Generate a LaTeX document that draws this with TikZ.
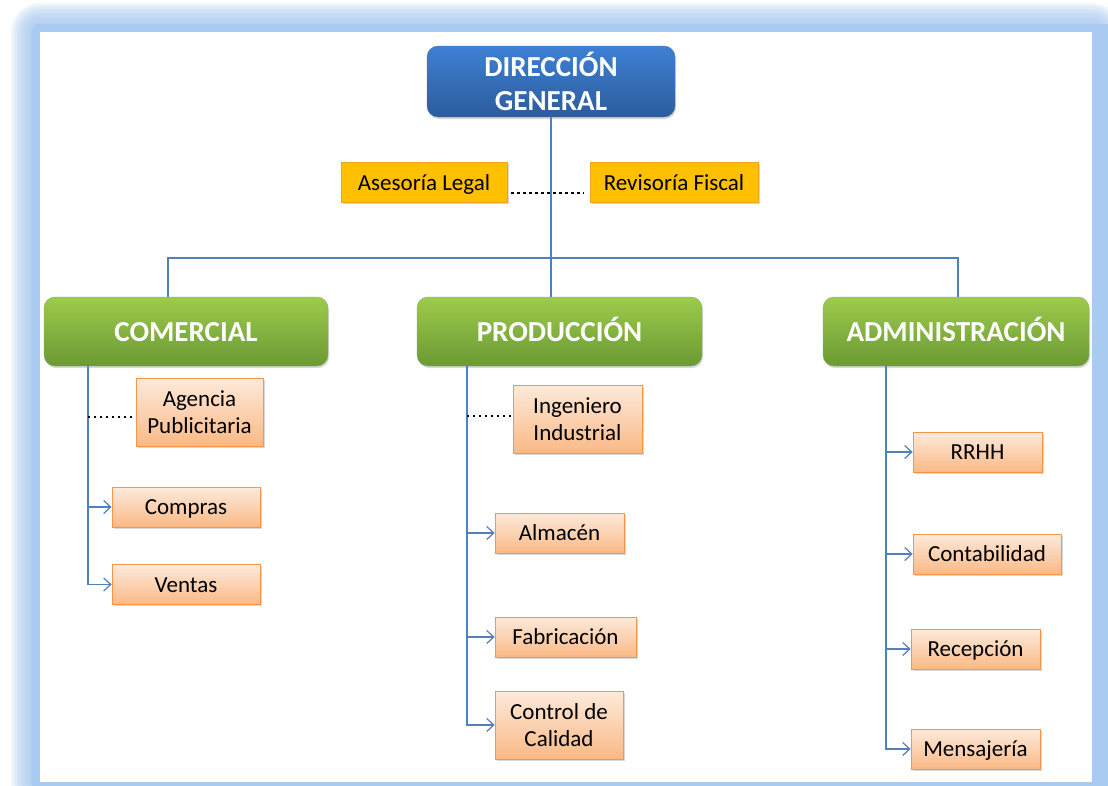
\documentclass[tikz,border=0pt]{standalone}
\usepackage{fontspec}
\setmainfont{Carlito}
\usetikzlibrary{arrows.meta,shadows}

\definecolor{framecol}{HTML}{A9CBF1}
\definecolor{linecol}{HTML}{4F81BD}
\definecolor{dirtop}{HTML}{3E80D4}
\definecolor{dirbot}{HTML}{2C5C9C}
\definecolor{areatop}{HTML}{9DCB4C}
\definecolor{areabot}{HTML}{6B9934}
\definecolor{advfill}{HTML}{FFC000}
\definecolor{advline}{HTML}{EDA31C}
\definecolor{unittop}{HTML}{FDEADB}
\definecolor{unitbot}{HTML}{FAB986}
\definecolor{unitline}{HTML}{F79646}

\tikzset{
  conn/.style={draw=linecol, line width=1.4pt},
  arr/.style={conn, -{Straight Barb[length=7pt,width=13pt,line width=1.2pt]}},
  dotline/.style={line width=2.6pt, dash pattern=on 2.6pt off 3.4pt},
  dirbox/.style={rounded corners=11pt, top color=dirtop, bottom color=dirbot,
    draw=dirbot!80, text=white, align=center, inner sep=2pt,
    font=\fontsize{29}{34}\selectfont\bfseries,
    minimum width=248pt, minimum height=71pt,
    drop shadow={shadow xshift=1pt, shadow yshift=-2pt, opacity=0.3}},
  areabox/.style={dirbox, top color=areatop, bottom color=areabot, draw=areabot!80,
    minimum height=69pt, text height=19pt, text depth=0pt},
  oneline/.style={text height=17.5pt, text depth=2.5pt},
  advbox/.style={fill=advfill, draw=advline, line width=0.8pt, inner sep=2pt,
    font=\fontsize{23}{26.5}\selectfont, minimum height=40pt,
    drop shadow={shadow xshift=1.5pt, shadow yshift=-1.5pt, opacity=0.3}},
  unitbox/.style={advbox, top color=unittop, bottom color=unitbot, draw=unitline,
    align=center}
}

\begin{document}
\begin{tikzpicture}[x=1pt,y=-1pt]
\useasboundingbox (0,0) rectangle (1108,785);
\clip (0,0) rectangle (1108,785);

% frame with soft glow
\fill[white] (0,0) rectangle (1108,785);
\fill[framecol, rounded corners=8pt] (32,24) rectangle (1116,800);
\foreach \d in {9,11,...,29}
  \fill[framecol, opacity=0.15, rounded corners=\d pt] (40-\d,32-\d) rectangle (1092+\d,782+\d);
\fill[white] (40,32) rectangle (1092,782);

% top level
\node[dirbox] (dir) at (551,81.5) {DIRECCIÓN\\GENERAL};
\node[advbox, oneline, minimum width=166pt] (legal) at (424,182.5) {Asesoría Legal};
\node[advbox, oneline, minimum width=168pt] (fiscal) at (674,182.5) {Revisoría Fiscal};

% areas
\node[areabox, minimum width=284pt] (comercial) at (186,331.5) {COMERCIAL};
\node[areabox, minimum width=285pt] (produccion) at (559.5,331.5) {PRODUCCIÓN};
\node[areabox, minimum width=266pt] (admin) at (956,331.5) {ADMINISTRACIÓN};

% units
\node[unitbox, minimum width=127pt, minimum height=68pt] (agencia) at (199.5,412) {Agencia\\Publicitaria};
\node[unitbox, oneline, minimum width=148pt] (compras) at (186,507) {Compras};
\node[unitbox, oneline, minimum width=148pt] (ventas) at (186,584.5) {Ventas};

\node[unitbox, minimum width=129pt, minimum height=68pt] (ingeniero) at (577.5,419) {Ingeniero\\Industrial};
\node[unitbox, oneline, minimum width=129pt] (almacen) at (559.5,533) {Almacén};
\node[unitbox, oneline, minimum width=141pt] (fabricacion) at (565.5,637) {Fabricación};
\node[unitbox, minimum width=128pt, minimum height=68pt] (control) at (559,725) {Control de\\Calidad};

\node[unitbox, oneline, minimum width=129pt] (rrhh) at (977.5,452) {RRHH};
\node[unitbox, oneline, minimum width=148pt] (contab) at (987,554) {Contabilidad};
\node[unitbox, oneline, minimum width=129pt] (recepcion) at (975.5,649) {Recepción};
\node[unitbox, oneline, minimum width=129pt] (mensajeria) at (975.5,749) {Mensajería};

% bus
\coordinate (busL) at (168,258);
\coordinate (busR) at (958,258);
\draw[conn] (dir.south) -- (dir.south |- produccion.north);
\draw[conn] (busL |- comercial.north) -- (busL) -- (busR) -- (busR |- admin.north);
\draw[dotline] ([shift={(4,10.5)}]legal.east) -- ([shift={(-6,10.5)}]fiscal.west);

% trunks
\coordinate (tc) at (88,0);
\coordinate (tp) at (467,0);
\coordinate (ta) at (886,0);

\draw[arr] (tc |- comercial.south) |- (ventas.west);
\draw[arr] (tc |- compras.west) -- (compras.west);
\draw[dotline, line width=2pt, dash pattern=on 2pt off 4pt] ([yshift=-5pt]tc |- agencia.west) -- ([yshift=-5pt]agencia.west);

\draw[arr] (tp |- produccion.south) |- (control.west);
\draw[arr] (tp |- almacen.west) -- (almacen.west);
\draw[arr] (tp |- fabricacion.west) -- (fabricacion.west);
\draw[dotline, line width=2pt, dash pattern=on 2pt off 4pt] ([yshift=3pt]tp |- ingeniero.west) -- ([yshift=3pt]ingeniero.west);

\draw[arr] (ta |- admin.south) |- (mensajeria.west);
\draw[arr] (ta |- rrhh.west) -- (rrhh.west);
\draw[arr] (ta |- contab.west) -- (contab.west);
\draw[arr] (ta |- recepcion.west) -- (recepcion.west);
\end{tikzpicture}
\end{document}
